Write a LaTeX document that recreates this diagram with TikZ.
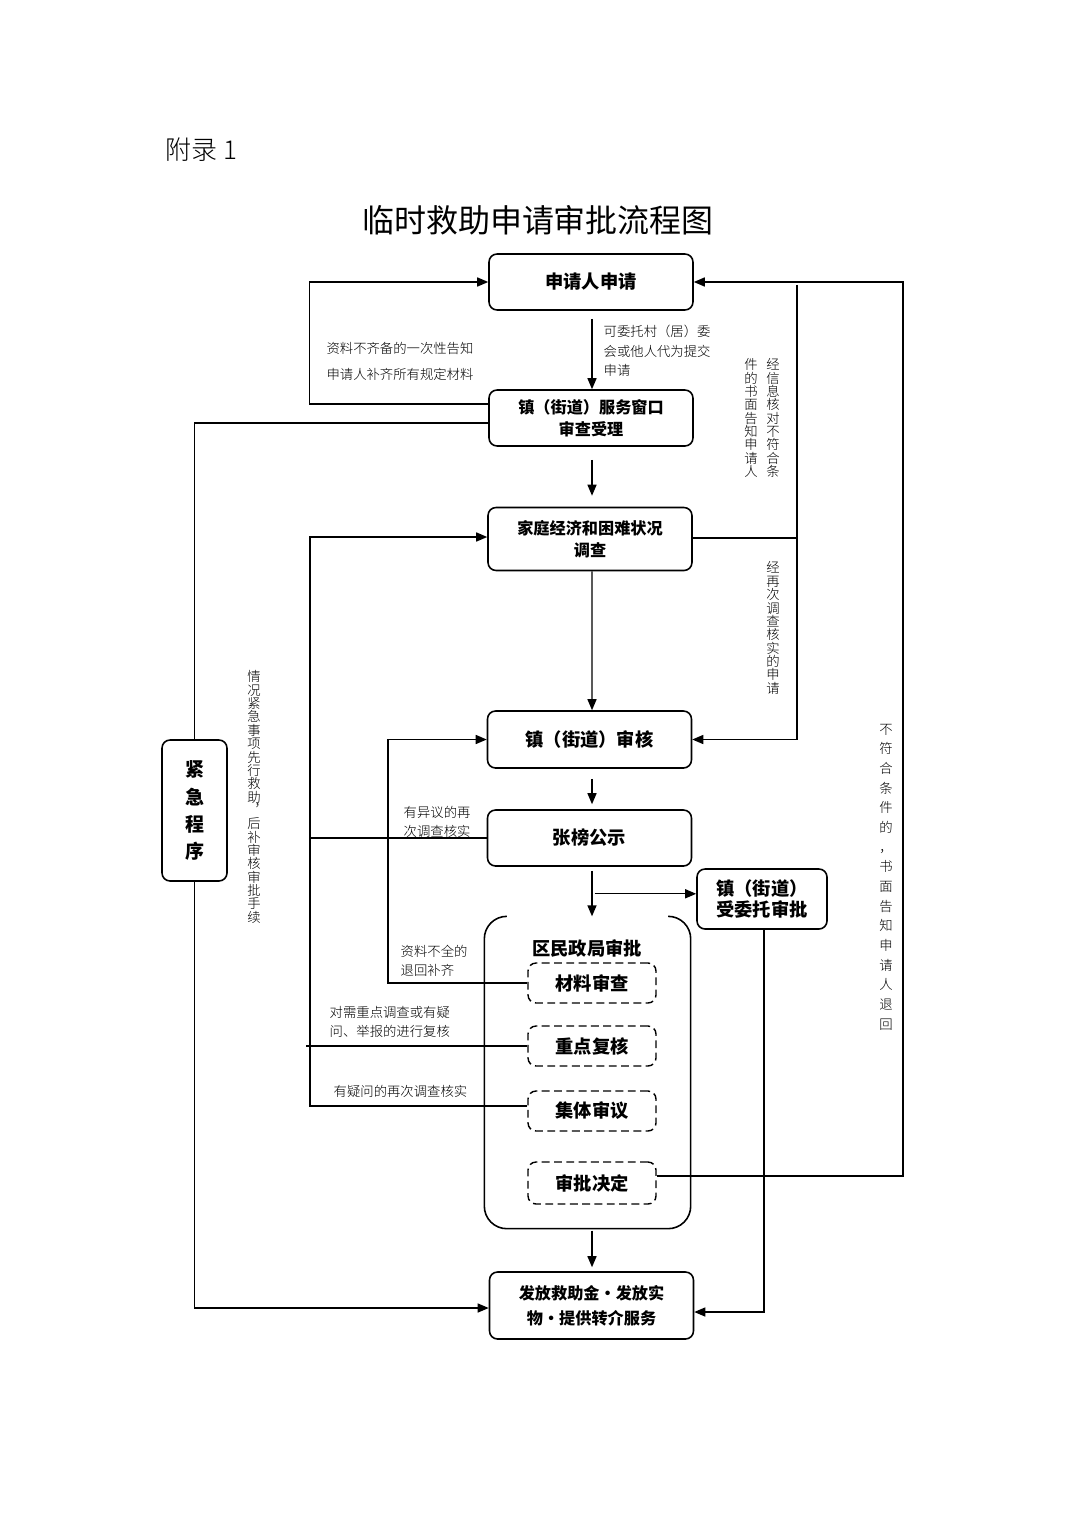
\documentclass[tikz,border=0pt]{standalone}
\usepackage{fontspec}
\setmainfont{Noto Sans CJK SC}
\newfontfamily\cjklight{Noto Sans CJK SC Light}
\usetikzlibrary{arrows.meta, calc}

\begin{document}
\begin{tikzpicture}[
    x=0.02cm, y=-0.02cm,
    line width=0.8pt,
    box/.style={draw, rounded corners=0.16cm, line width=0.9pt, minimum width=4.08cm, minimum height=1.12cm, align=center, font=\bfseries\fontsize{10.4}{13}\selectfont},
    boxsmall/.style={box, font=\bfseries\fontsize{9.2}{12.5}\selectfont},
    subbox/.style={draw, dash pattern=on 4.5pt off 2.5pt, rounded corners=0.16cm, line width=0.8pt, minimum width=2.56cm, minimum height=0.8cm, font=\bfseries\fontsize{10.4}{13}\selectfont},
    note/.style={inner sep=0pt, align=left, font=\cjklight\fontsize{7.6}{10.8}\selectfont},
    vnote/.style={inner sep=0pt, align=center, font=\cjklight\fontsize{7.6}{7.6}\selectfont},
    arrow/.style={-{Triangle[length=2.2mm, width=1.8mm]}}
]
\useasboundingbox (0,0) rectangle (1075,1520);

% Headings
\node[anchor=west, inner sep=0pt, font=\cjklight\fontsize{14.8}{16}\selectfont] (appendix) at (165,150) {附录 1};
\node[inner sep=0pt, font=\fontsize{18.2}{20}\selectfont] (title) at (538,220) {临时救助申请审批流程图};

% Main steps
\node[box] (apply) at (591,282) {申请人申请};
\node[boxsmall] (window) at (591,418) {镇（街道）服务窗口\\审查受理};
\node[boxsmall, minimum height=1.26cm] (survey) at (590,539) {家庭经济和困难状况\\调查};
\node[box, minimum height=1.14cm] (audit) at (589.5,739.5) {镇（街道）审核};
\node[box] (publish) at (589.5,838) {张榜公示};
\node[box, minimum width=2.6cm, minimum height=1.2cm, font=\bfseries\fontsize{10.4}{12}\selectfont] (entrust) at (762,899) {镇（街道）\\受委托审批};
\node[boxsmall, minimum height=1.34cm, font=\bfseries\fontsize{9.2}{14}\selectfont] (grant) at (591.5,1305.5) {发放救助金・发放实\\物・提供转介服务};
\node[draw, rounded corners=0.16cm, line width=0.9pt, minimum width=1.3cm, minimum height=2.82cm, align=center, font=\bfseries\fontsize{10.8}{15.4}\selectfont] (emergency) at (194.5,810.5) {紧\\急\\程\\序};

% District approval
\node[minimum width=4.1cm, minimum height=6.22cm] (district) at (587.5,1072.5) {};
\draw[line width=0.9pt, rounded corners=0.45cm] ($(district.north west)+(22,0)$) -- (district.north west) -- (district.south west) -- (district.south east) -- (district.north east) -- ($(district.north east)+(-22,0)$);
\node[inner sep=0pt, font=\bfseries\fontsize{10.4}{13}\selectfont] (districttitle) at (587,948) {区民政局审批};
\node[subbox] (review) at (592,983) {材料审查};
\node[subbox] (recheck) at (592,1046) {重点复核};
\node[subbox] (collective) at (592,1111) {集体审议};
\node[subbox, minimum height=0.84cm] (decision) at (592,1183) {审批决定};

% Notes
\node[note, align=center, font=\cjklight\fontsize{7.6}{14.8}\selectfont] (missnote) at (400,361) {资料不齐备的一次性告知\\申请人补齐所有规定材料};
\node[note, anchor=west, font=\cjklight\fontsize{7.6}{11}\selectfont] (proxynote) at (603,351) {可委托村（居）委\\会或他人代为提交\\申请};
\node[vnote] (infonoteA) at (773,418) {经\\信\\息\\核\\对\\不\\符\\合\\条};
\node[vnote] (infonoteB) at (751,418) {件\\的\\书\\面\\告\\知\\申\\请\\人};
\node[vnote] (recheckednote) at (773,628) {经\\再\\次\\调\\查\\核\\实\\的\\申\\请};
\node[vnote] (urgentnote) at (254,797) {情\\况\\紧\\急\\事\\项\\先\\行\\救\\助\\︐\\后\\补\\审\\核\\审\\批\\手\\续};
\node[vnote, font=\cjklight\fontsize{7.6}{11.2}\selectfont] (rejectnote) at (886,877) {不\\符\\合\\条\\件\\的\\，\\书\\面\\告\\知\\申\\请\\人\\退\\回};
\node[note, anchor=west] (objectnote) at (403,822) {有异议的再\\次调查核实};
\node[note, anchor=west] (incompletenote) at (400,961) {资料不全的\\退回补齐};
\node[note, anchor=west] (focusnote) at (329,1022) {对需重点调查或有疑\\问、举报的进行复核};
\node[note, anchor=west] (doubtnote) at (333,1091) {有疑问的再次调查核实};

% Turning points
\coordinate (infotop) at (797,285);
\coordinate (rejectx) at (903,1176);
\coordinate (loopL) at (310,1106);
\coordinate (loopM) at (388,983);

% Main flow
\draw[arrow] ($(apply.south)+(1,8)$) -- ($(window.north)+(1,0)$);
\draw[arrow] ($(window.south)+(1,13)$) -- ($(survey.north)+(2,-11)$);
\draw[arrow] ($(survey.south)+(2,0)$) -- ($(audit.north)+(2.5,0)$);
\draw[arrow] ($(audit.south)+(2.5,10)$) -- ($(publish.north)+(2.5,-5)$);
\draw[arrow] ($(publish.south)+(2.5,4)$) -- ($(district.north)+(4.5,0)$);
\draw[arrow] ($(publish.south)+(5,27)$) coordinate (split) -- (split -| entrust.west);
\draw[arrow] ($(district.south)+(4.5,2)$) -- ($(grant.north)+(0.5,-4)$);
\draw[arrow] ($(entrust.south)+(2,0)$) |- ($(grant.east)+(0,6.5)$);

% Incomplete materials
\draw[arrow] ($(window.west)+(0,-14)$) -| ($(apply.west)+(-179,0)$) -- (apply.west);

% Emergency route
\draw ($(window.west)+(0,5)$) -| (emergency.north);
\draw[arrow] (emergency.south) |- ($(grant.west)+(0,2.5)$);

% Verification route
\draw ($(survey.east)+(0,-1)$) -- ($(survey.east -| infotop)+(0,-1)$);
\draw[arrow] (infotop) |- (audit.east);

% Returns on the left
\draw[arrow] ($(collective.west)+(0,-5)$) -- (loopL) |- ($(survey.west)+(0,-2)$);
\draw (publish.west) -- (publish.west -| loopL);
\draw (recheck.west) -- ($(recheck.west -| loopL)+(-4,0)$);
\draw[arrow] (review.west) -- (loopM) |- (audit.west);

% Rejection
\draw[arrow] ($(decision.east)+(0,-7)$) -- (rejectx) |- (apply.east);

\end{tikzpicture}
\end{document}
